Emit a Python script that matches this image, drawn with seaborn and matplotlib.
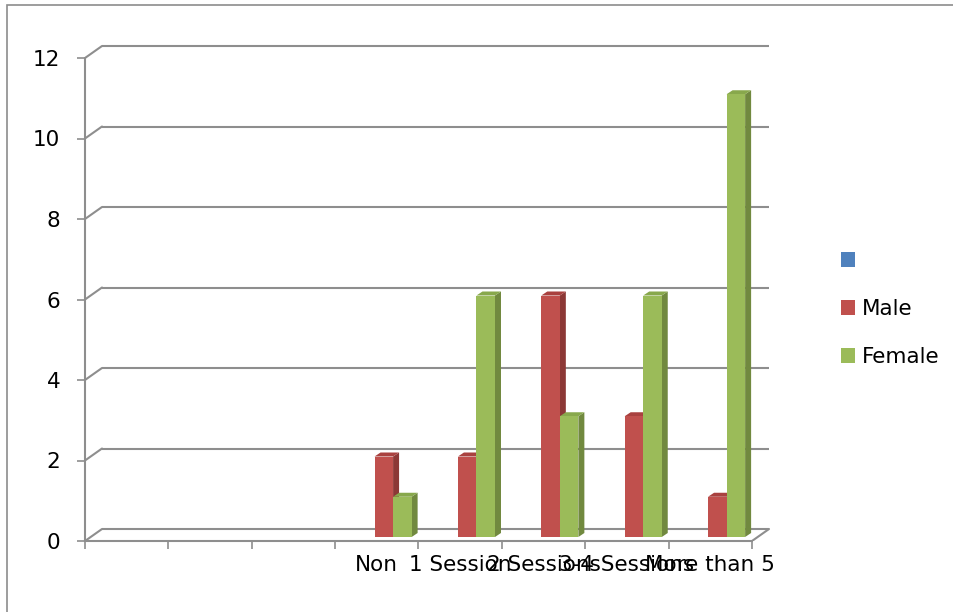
import numpy as np
import pandas as pd
import matplotlib
matplotlib.use("Agg")
import matplotlib.pyplot as plt
from matplotlib.patches import Polygon, Patch, Rectangle
import seaborn as sns

# Category slots (first three are unlabeled and empty)
slot_labels = ["", "", "", "Non", "1 Session", "2 Sessions", "3-4 Sessions", "More than 5"]
blank_values = [0, 0, 0, 0, 0, 0, 0, 0]
male_values = [0, 0, 0, 2, 2, 6, 3, 1]
female_values = [0, 0, 0, 1, 6, 3, 6, 11]
series_names = [" ", "Male", "Female"]
y_ticks = [0, 2, 4, 6, 8, 10, 12]

front_colors = {" ": "#4F81BD", "Male": "#C0504D", "Female": "#9BBB59"}
side_colors = {" ": "#385D8A", "Male": "#8C3836", "Female": "#71893F"}
top_colors = {" ": "#6A93C8", "Male": "#A9413F", "Female": "#88A84C"}
series_z = {" ": 3, "Male": 4, "Female": 5}
grid_color = "#8E8E8E"

rows = []
for name, vals in zip(series_names, [blank_values, male_values, female_values]):
    for i, v in enumerate(vals):
        rows.append({"slot": i, "series": name, "count": v})
df = pd.DataFrame(rows)

sns.set_theme(style="white")
plt.rcParams["font.family"] = ["DejaVu Sans"]
plt.rcParams["text.color"] = "black"

W, H = 954, 612
fig = plt.figure(figsize=(W / 100, H / 100), dpi=100)

# pixel geometry of the plotting box
px_x = 83.375          # pixels per category slot
px_y = 40.25           # pixels per unit value
x0_px, y0_px = 85, 541  # front-left corner of the floor (from top-left)
xlim = (-0.5, 7.85)
ylim = (0, 12.55)
ax_w = (xlim[1] - xlim[0]) * px_x
ax_h = (ylim[1] - ylim[0]) * px_y
ax = fig.add_axes([x0_px / W, (H - y0_px) / H, ax_w / W, ax_h / H])

# depth of the back wall and of a single bar, in data units
wall_dx, wall_dy = 17 / px_x, 12 / px_y
bar_dx, bar_dy = 6 / px_x, 4 / px_y
shift_dx, shift_dy = 7 / px_x, 4 / px_y

sns.barplot(data=df, x="slot", y="count", hue="series", hue_order=series_names,
            order=list(range(len(slot_labels))), palette=front_colors,
            width=0.667, gap=0, linewidth=0, saturation=1, legend=False, ax=ax)

# back wall grid lines and the left wall connectors
for v in y_ticks:
    ax.plot([-0.5 + wall_dx, 7.5 + wall_dx], [v + wall_dy, v + wall_dy],
            color=grid_color, lw=1.5, zorder=1, solid_capstyle="butt")
    ax.plot([-0.5, -0.5 + wall_dx], [v, v + wall_dy], color=grid_color,
            lw=1.5, zorder=1)
ax.plot([7.5, 7.5 + wall_dx], [0, wall_dy], color=grid_color, lw=1.5, zorder=1)

# give each bar its depth: shift to mid-depth and add side and top faces
hue_cycle = []
for name in series_names:
    hue_cycle += [name] * len(slot_labels)
for patch, name in zip(list(ax.patches), hue_cycle):
    h = patch.get_height()
    if h <= 0:
        patch.set_visible(False)
        continue
    z = series_z[name]
    x = patch.get_x() + shift_dx
    w = patch.get_width()
    patch.set_x(x)
    patch.set_y(shift_dy)
    patch.set_zorder(z + 0.1)
    b = shift_dy
    side = Polygon([[x + w, b], [x + w + bar_dx, b + bar_dy],
                    [x + w + bar_dx, b + h + bar_dy], [x + w, b + h]],
                   closed=True, facecolor=side_colors[name], edgecolor="none",
                   zorder=z)
    top = Polygon([[x, b + h], [x + bar_dx, b + h + bar_dy],
                   [x + w + bar_dx, b + h + bar_dy], [x + w, b + h]],
                  closed=True, facecolor=top_colors[name], edgecolor="none",
                  zorder=z)
    ax.add_patch(side)
    ax.add_patch(top)

ax.set_xlim(*xlim)
ax.set_ylim(*ylim)

# axes lines
for s in ["top", "right"]:
    ax.spines[s].set_visible(False)
ax.spines["left"].set_bounds(0, 12)
ax.spines["bottom"].set_bounds(-0.5, 7.5)
for s in ["left", "bottom"]:
    ax.spines[s].set_color(grid_color)
    ax.spines[s].set_linewidth(1.5)
    ax.spines[s].set_zorder(2)

ax.set_yticks(y_ticks)
ax.set_yticklabels([str(v) for v in y_ticks])
ax.set_xticks(np.arange(-0.5, 8.0, 1.0))
ax.set_xticklabels([])
ax.set_xticks(np.arange(len(slot_labels)), minor=True)
ax.set_xticklabels(slot_labels, minor=True)
ax.tick_params(axis="y", which="major", length=5.8, width=1.2, color=grid_color,
               direction="out", left=True, pad=12, labelsize=15.5, labelcolor="black")
ax.tick_params(axis="x", which="major", length=5.8, width=1.2, color=grid_color,
               direction="out", bottom=True)
ax.tick_params(axis="x", which="minor", length=0, pad=10, labelsize=15.5,
               labelcolor="black")
ax.set_xlabel("")
ax.set_ylabel("")
ax.set_facecolor("none")
ax.grid(False)

handles = [Patch(facecolor=front_colors[n], edgecolor="none") for n in series_names]
fig.legend(handles, ["", "Male", "Female"], loc="center left",
           bbox_to_anchor=(841 / W, (H - 309) / H), frameon=False,
           fontsize=15.5, handlelength=0.65, handleheight=0.65,
           handletextpad=0.3, labelspacing=1.3, borderpad=0, borderaxespad=0,
           labelcolor="black")

# chart area border
fig.patches.append(Rectangle((7 / W, -0.1), 1.2, (H - 5) / H + 0.1,
                             transform=fig.transFigure, fill=False,
                             edgecolor="#8C8C8C", lw=1.2, clip_on=False))

fig.savefig("out.png", dpi=100)
